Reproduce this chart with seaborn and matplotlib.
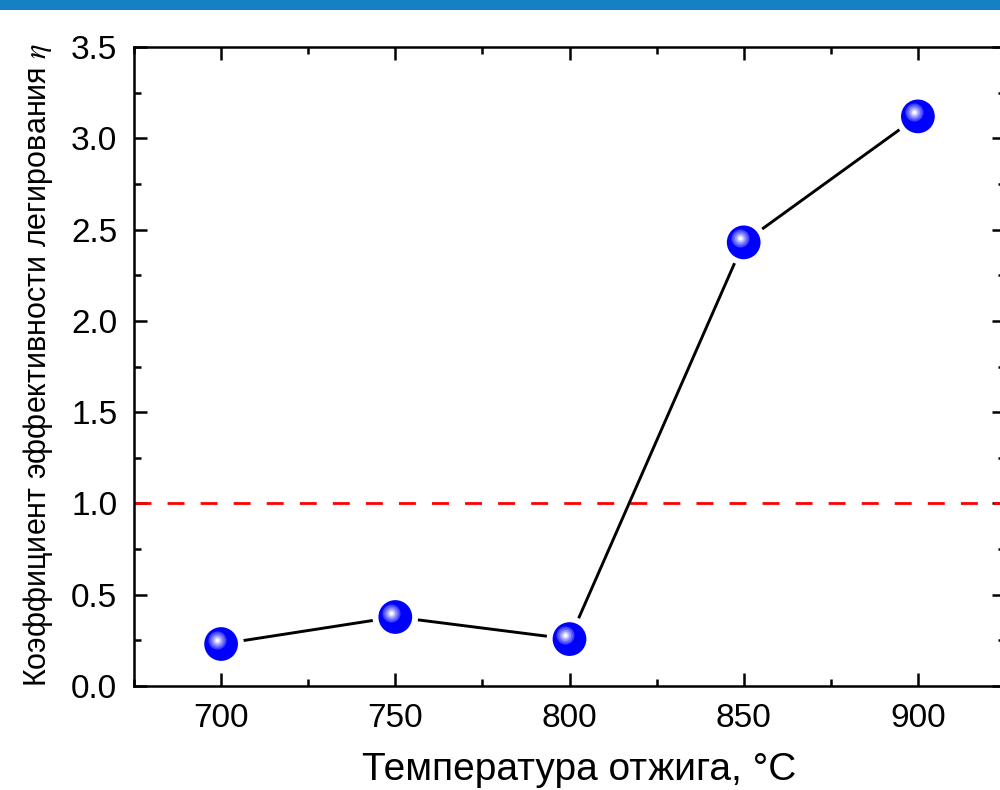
import matplotlib
matplotlib.use("Agg")
import matplotlib.pyplot as plt
import matplotlib.transforms as mtransforms
from matplotlib.patches import Rectangle
from matplotlib.ticker import MultipleLocator
import seaborn as sns
import pandas as pd

# ---- data ----
temperature = [700, 750, 800, 850, 900]
eta = [0.23, 0.378, 0.257, 2.43, 3.12]
threshold = 1.0
x_ticks = [700, 750, 800, 850, 900]
y_ticks = [0.0, 0.5, 1.0, 1.5, 2.0, 2.5, 3.0, 3.5]
xlabel = "Температура отжига, °C"
ylabel = "Коэффициент эффективности легирования $\\eta$"

df = pd.DataFrame({"T": temperature, "eta": eta})

sns.set_theme(style="ticks")
plt.rcParams["font.family"] = ["Liberation Sans", "DejaVu Sans"]
plt.rcParams["mathtext.fontset"] = "stix"

fig = plt.figure(figsize=(10, 7.9), dpi=100)
ax = fig.add_axes([0.134, 1 - 686 / 790, 0.871, 639 / 790])

# top blue band
fig.patches.append(Rectangle((0, 1 - 10 / 790), 1, 10 / 790, transform=fig.transFigure,
                             facecolor="#1580C3", edgecolor="none", zorder=10))

# dashed threshold
ax.axhline(threshold, color="#FF0000", lw=2.0, dashes=(6.1, 5.8), zorder=1)

# connecting line
sns.lineplot(data=df, x="T", y="eta", ax=ax, color="black", lw=2.1, zorder=2,
             sort=False, legend=False)

# white gap around symbols
sns.scatterplot(data=df, x="T", y="eta", ax=ax, s=1080, color="white",
                edgecolor="none", zorder=3, legend=False)
# blue spheres
sns.scatterplot(data=df, x="T", y="eta", ax=ax, s=590, color="#0000FF",
                edgecolor="none", zorder=4, legend=False)
# highlight (gradient) offset up-left
off = mtransforms.offset_copy(ax.transData, fig=fig, x=-3.0, y=3.0, units="points")
for size, col in [(13, "#4040FF"), (10.5, "#6A6AFF"), (8, "#9595FF"), (5.5, "#C0C0FF"),
                  (3.5, "#E6E6FF"), (2, "#FFFFFF")]:
    ax.plot(temperature, eta, ls="none", marker="o", ms=size, mfc=col, mec="none",
            transform=off, zorder=5)

ax.set_xlim(675, 925)
ax.set_ylim(0, 3.5)
ax.set_xticks(x_ticks)
ax.set_yticks(y_ticks)
ax.set_yticklabels([f"{v:.1f}" for v in y_ticks])
ax.xaxis.set_minor_locator(MultipleLocator(25))
ax.yaxis.set_minor_locator(MultipleLocator(0.25))

for sp in ax.spines.values():
    sp.set_visible(True)
    sp.set_linewidth(1.8)
    sp.set_color("black")

ax.tick_params(which="both", direction="in", top=True, right=True, width=1.8,
               color="black", labelsize=24, labelcolor="black")
ax.tick_params(which="major", length=9.4)
ax.tick_params(which="minor", length=5)
ax.tick_params(axis="x", which="major", pad=12.5)
ax.tick_params(axis="y", which="major", pad=12)

ax.set_xlabel(xlabel, fontsize=28, color="black")
ax.set_ylabel(ylabel, fontsize=22, color="black")
ax.xaxis.set_label_coords(0.511, (686 - 780) / 639)
ax.yaxis.set_label_coords(-0.110, 0.502)
ax.xaxis.label.set_va("baseline")
ax.yaxis.label.set_va("center")

fig.savefig("out.png", dpi=100)
